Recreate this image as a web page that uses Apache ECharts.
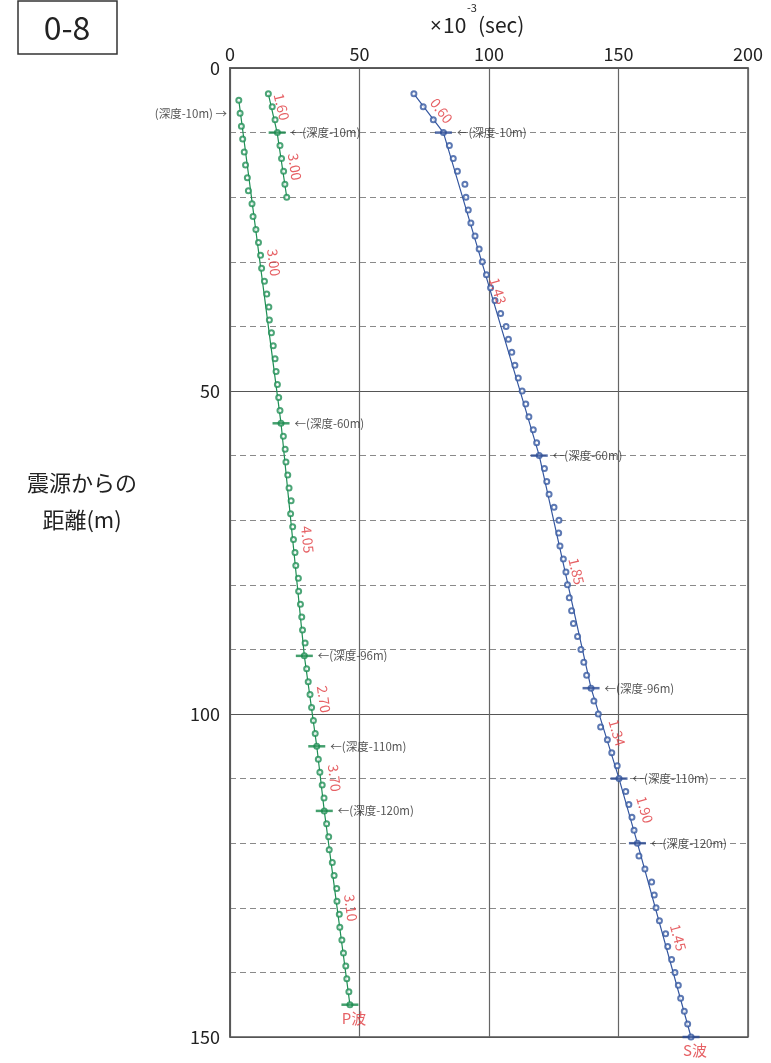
<!DOCTYPE html>
<html>
<head>
<meta charset="utf-8">
<script src="https://cdn.jsdelivr.net/npm/echarts/dist/echarts.min.js"></script>
<style>
  html, body { margin: 0; padding: 0; background: #fff; }
  #main { width: 771px; height: 1063px; }
</style>
</head>
<body>
<div id="main"></div>
<script>
// 距離(m) と 走時(×10^-3 sec)
var xTicks = [0, 50, 100, 150, 200];
var yTicks = [0, 50, 100, 150];

// P波 (浅部の短い測線)
var pShallowDist = [4, 6, 8, 10, 12, 14, 16, 18, 20];
var pShallowTime = [14.8, 16.3, 17.4, 18.3, 19.3, 19.9, 20.7, 21.2, 21.9];

// P波 (主測線)
var pDist = [5, 7, 9, 11, 13, 15, 17, 19, 21, 23, 25, 27, 29, 31, 33, 35, 37, 39, 41, 43,
  45, 47, 49, 51, 53, 55, 57, 59, 61, 63, 65, 67, 69, 71, 73, 75, 77, 79, 81, 83,
  85, 87, 89, 91, 93, 95, 97, 99, 101, 103, 105, 107, 109, 111, 113, 115, 117, 119, 121, 123,
  125, 127, 129, 131, 133, 135, 137, 139, 141, 143, 145];
var pTime = [3.4, 3.9, 4.4, 4.9, 5.5, 6.0, 6.7, 7.1, 8.5, 8.9, 10.0, 11.0, 11.8, 12.2, 13.3, 14.2, 15.0, 15.2, 16.0, 16.7,
  17.4, 17.8, 18.3, 18.8, 19.3, 19.7, 20.6, 21.3, 21.6, 22.3, 22.8, 23.6, 23.4, 24.2, 24.5, 25.1, 25.4, 26.4, 26.5, 27.2,
  27.7, 28.0, 29.0, 28.7, 29.6, 30.2, 30.9, 31.5, 32.2, 32.9, 33.5, 34.1, 34.7, 35.6, 36.3, 36.4, 37.3, 38.1, 38.3, 39.5,
  40.2, 41.2, 41.3, 42.2, 42.4, 43.2, 43.8, 44.7, 45.1, 45.9, 46.3];

// S波
var sDist = [4, 6, 8, 10, 12, 14, 16, 18, 20, 22, 24, 26, 28, 30, 32, 34, 36, 38, 40, 42,
  44, 46, 48, 50, 52, 54, 56, 58, 60, 62, 64, 66, 68, 70, 72, 74, 76, 78, 80, 82,
  84, 86, 88, 90, 92, 94, 96, 98, 100, 102, 104, 106, 108, 110, 112, 114, 116, 118, 120, 122,
  124, 126, 128, 130, 132, 134, 136, 138, 140, 142, 144, 146, 148, 150];
var sTime = [71.0, 74.6, 78.5, 82.4, 84.7, 86.2, 87.8, 90.7, 91.1, 92.0, 93.0, 94.6, 96.2, 97.4, 99.0, 100.6, 102.3, 104.5, 106.6, 107.5,
  108.8, 110.0, 111.3, 112.8, 114.2, 115.4, 117.1, 118.4, 119.4, 121.4, 122.3, 123.2, 125.1, 127.0, 126.9, 127.4, 128.7, 129.7, 130.3, 131.0,
  131.9, 132.6, 134.2, 135.5, 136.6, 137.7, 139.4, 140.5, 142.2, 143.1, 145.7, 147.4, 149.5, 150.2, 152.8, 154.0, 155.2, 156.0, 157.3, 157.9,
  160.2, 162.8, 163.8, 164.5, 165.8, 168.2, 169.0, 170.5, 171.8, 173.1, 174.0, 175.4, 176.7, 178.0];

// 折れ点 (速度区分)
var pShallowBreakDist = [4, 10, 20];
var pShallowBreakTime = [14.8, 18.2, 21.9];
var pBreakDist = [5, 55, 91, 105, 115, 145];
var pBreakTime = [3.4, 19.7, 28.7, 33.5, 36.4, 46.3];
var sBreakDist = [4, 10, 60, 96, 110, 120, 150];
var sBreakTime = [71.0, 82.4, 119.4, 139.4, 150.2, 157.3, 178.0];

// 深度マーカー
var pShallowMarkIdx = [1];
var pShallowMarkText = ['(深度-10m)'];
var pMarkIdx = [1, 2, 3, 4, 5];
var pMarkText = ['(深度-60m)', '(深度-96m)', '(深度-110m)', '(深度-120m)', 'P波'];
var sMarkIdx = [1, 2, 3, 4, 5, 6];
var sMarkText = ['(深度-10m)', '(深度-60m)', '(深度-96m)', '(深度-110m)', '(深度-120m)', 'S波'];
var pTopText = '(深度-10m) →';

// 速度 (km/s) ラベル
var pShallowVel = ['1.60', '3.00'];
var pShallowVelTime = [20.0, 25.1];
var pShallowVelDist = [6.0, 15.3];
var pVel = ['3.00', '4.05', '2.70', '3.70', '3.10'];
var pVelTime = [17.0, 30.0, 36.3, 40.4, 46.7];
var pVelDist = [30.1, 73.0, 97.7, 109.9, 130.0];
var sVel = ['0.60', '1.43', '1.85', '1.34', '1.90', '1.45'];
var sVelTime = [81.7, 103.5, 133.8, 149.5, 160.2, 173.1];
var sVelDist = [6.6, 34.5, 77.9, 102.9, 114.8, 134.6];

// ラベルの傾き(度)
var pShallowVelRot = [-77, -82];
var pVelRot = [-83, -84, -82, -83, -83];
var sVelRot = [-53, -73, -77, -73, -74, -75];

var GREEN = '#1f8f55';
var BLUE = '#3557a0';
var RED = '#e0393e';
var FONT = '"Noto Sans CJK JP", "Noto Sans", sans-serif';

function pairs(xs, ys) {
  var out = [];
  for (var i = 0; i < xs.length; i++) out.push([xs[i], ys[i]]);
  return out;
}

function markData(idx, texts, times, dists) {
  var out = [];
  for (var i = 0; i < idx.length; i++) {
    var k = idx[i];
    var t = texts[i];
    var isWave = t.indexOf('波') >= 0;
    out.push({
      value: [times[k], dists[k]],
      label: isWave
        ? { show: true, formatter: t, position: 'bottom', distance: 5, color: RED, fontSize: 15, offset: [4, 0] }
        : { show: true, formatter: '←' + t, position: 'right', distance: 5, color: '#2a2a2a', fontSize: 11.5 }
    });
  }
  return out;
}

function velData(texts, times, dists, rots) {
  var out = [];
  for (var i = 0; i < texts.length; i++) {
    out.push({
      value: [times[i], dists[i]],
      label: { show: true, formatter: texts[i], rotate: rots[i] }
    });
  }
  return out;
}

var myChart = echarts.init(document.getElementById('main'));

var velLabel = { show: true, position: 'inside', color: RED, fontSize: 14, fontFamily: FONT };

var option = {
  animation: false,
  textStyle: { fontFamily: FONT },
  grid: {
    left: 230, right: 23, top: 68, bottom: 26,
    show: true, borderColor: '#555', borderWidth: 1.5, backgroundColor: 'transparent'
  },
  xAxis: {
    type: 'value', position: 'top', min: xTicks[0], max: xTicks[xTicks.length - 1], interval: 50,
    axisLine: { show: true, lineStyle: { color: '#555', width: 1.5 } },
    axisTick: { show: false },
    axisLabel: { color: '#222', fontSize: 18, margin: 5 },
    splitLine: { show: true, lineStyle: { color: '#666', width: 1.2 } }
  },
  yAxis: {
    type: 'value', inverse: true, min: yTicks[0], max: yTicks[yTicks.length - 1], interval: 50,
    axisLine: { show: true, lineStyle: { color: '#555', width: 1.5 } },
    axisTick: { show: false },
    axisLabel: { color: '#222', fontSize: 18, margin: 10 },
    splitLine: { show: true, lineStyle: { color: '#555', width: 1.2 } },
    minorTick: { show: false, splitNumber: 5 },
    minorSplitLine: { show: true, lineStyle: { color: '#8a8a8a', width: 1, type: [6, 4] } }
  },
  graphic: [
    { type: 'rect', shape: { x: 18, y: 1, width: 99, height: 53 },
      style: { fill: '#fff', stroke: '#333', lineWidth: 1.5 } },
    { type: 'text', x: 67, y: 28,
      style: { text: '0-8', font: '32px ' + FONT, fill: '#222', textAlign: 'center', textVerticalAlign: 'middle' } },
    { type: 'text', x: 430, y: 26,
      style: { text: '×', font: '20px "Liberation Sans", sans-serif', fill: '#222', textAlign: 'left', textVerticalAlign: 'middle' } },
    { type: 'text', x: 443, y: 25,
      style: { text: '10', font: '21px ' + FONT, fill: '#222', textAlign: 'left', textVerticalAlign: 'middle' } },
    { type: 'text', x: 467, y: 8,
      style: { text: '-3', font: '11px ' + FONT, fill: '#222', textAlign: 'left', textVerticalAlign: 'middle' } },
    { type: 'text', x: 478, y: 25,
      style: { text: '(sec)', font: '21px ' + FONT, fill: '#222', textAlign: 'left', textVerticalAlign: 'middle' } },
    { type: 'text', x: 82, y: 483,
      style: { text: '震源からの', font: '22px ' + FONT, fill: '#222', textAlign: 'center', textVerticalAlign: 'middle' } },
    { type: 'text', x: 82, y: 520,
      style: { text: '距離(m)', font: '22px ' + FONT, fill: '#222', textAlign: 'center', textVerticalAlign: 'middle' } }
  ],
  series: [
    // 近似直線
    { type: 'line', data: pairs(pShallowBreakTime, pShallowBreakDist), showSymbol: false,
      lineStyle: { color: GREEN, width: 1.2 }, z: 2 },
    { type: 'line', data: pairs(pBreakTime, pBreakDist), showSymbol: false,
      lineStyle: { color: GREEN, width: 1.2 }, z: 2 },
    { type: 'line', data: pairs(sBreakTime, sBreakDist), showSymbol: false,
      lineStyle: { color: BLUE, width: 1.2 }, z: 2 },
    // 観測点
    { type: 'scatter', data: pairs(pShallowTime, pShallowDist), symbol: 'emptyCircle', symbolSize: 5,
      itemStyle: { color: GREEN, borderWidth: 1 }, z: 3 },
    { type: 'scatter', data: pairs(pTime, pDist), symbol: 'emptyCircle', symbolSize: 5,
      itemStyle: { color: GREEN, borderWidth: 1 }, z: 3 },
    { type: 'scatter', data: pairs(sTime, sDist), symbol: 'emptyCircle', symbolSize: 5,
      itemStyle: { color: BLUE, borderWidth: 1 }, z: 3 },
    // 深度マーカー
    { type: 'scatter', symbol: 'rect', symbolSize: [17, 2.5], itemStyle: { color: '#17884a' }, z: 4,
      data: markData(pShallowMarkIdx, pShallowMarkText, pShallowBreakTime, pShallowBreakDist) },
    { type: 'scatter', symbol: 'rect', symbolSize: [17, 2.5], itemStyle: { color: '#17884a' }, z: 4,
      data: markData(pMarkIdx, pMarkText, pBreakTime, pBreakDist) },
    { type: 'scatter', symbol: 'rect', symbolSize: [17, 2.5], itemStyle: { color: '#2a4a94' }, z: 4,
      data: markData(sMarkIdx, sMarkText, sBreakTime, sBreakDist) },
    // 主測線の上端ラベル
    { type: 'scatter', symbolSize: 0, z: 4,
      data: [{ value: [0, pDist[1]],
        label: { show: true, formatter: pTopText, position: 'left', distance: 3, color: '#2a2a2a', fontSize: 11.5 } }] },
    // 速度ラベル
    { type: 'scatter', symbolSize: 0, z: 5, label: velLabel,
      data: velData(pShallowVel, pShallowVelTime, pShallowVelDist, pShallowVelRot) },
    { type: 'scatter', symbolSize: 0, z: 5, label: velLabel,
      data: velData(pVel, pVelTime, pVelDist, pVelRot) },
    { type: 'scatter', symbolSize: 0, z: 5, label: velLabel,
      data: velData(sVel, sVelTime, sVelDist, sVelRot) }
  ]
};

myChart.setOption(option);
</script>
</body>
</html>
